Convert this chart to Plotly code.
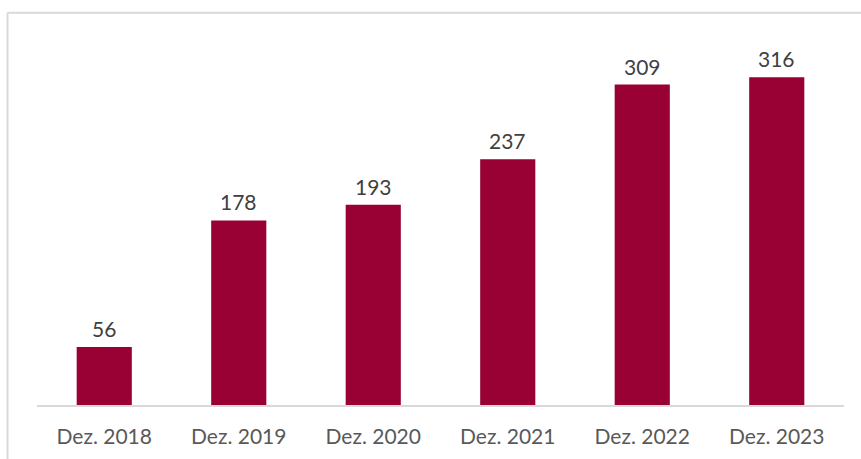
import plotly.graph_objects as go

categories = ["Dez. 2018", "Dez. 2019", "Dez. 2020", "Dez. 2021", "Dez. 2022", "Dez. 2023"]
values = [56, 178, 193, 237, 309, 316]

W, H = 861, 459
ml, mr, mt, mb = 37, 17, 41.7, 54
plot_w = W - ml - mr
plot_h = H - mt - mb

fig = go.Figure()
fig.add_trace(go.Bar(
    x=categories, y=values,
    marker=dict(color="#990033", line=dict(width=0)),
    width=0.41,
    hoverinfo="x+y",
))

for c, v in zip(categories, values):
    fig.add_annotation(x=c, y=v, text=str(v), showarrow=False,
                       yanchor="bottom", yshift=4,
                       font=dict(family="Lato", size=21, color="#404040"))

# outer chart border (left and top visible)
bx = (7.5 - ml) / plot_w
by = (H - mb - 12.5) / plot_h
fig.add_shape(type="line", xref="paper", yref="paper", x0=bx, x1=bx, y0=-0.2, y1=by,
              line=dict(color="#d9d9d9", width=2))
fig.add_shape(type="line", xref="paper", yref="paper", x0=bx, x1=1.1, y0=by, y1=by,
              line=dict(color="#d9d9d9", width=2))

fig.update_layout(
    width=W, height=H,
    margin=dict(l=ml, r=mr, t=mt, b=mb),
    paper_bgcolor="white", plot_bgcolor="white",
    showlegend=False,
    bargap=0.59,
    xaxis=dict(showline=True, linecolor="#d9d9d9", linewidth=1.5,
               ticks="outside", ticklen=12, tickcolor="rgba(0,0,0,0)",
               tickfont=dict(family="Lato", size=21, color="#595959"),
               showgrid=False, fixedrange=True),
    yaxis=dict(range=[0, 350], visible=False, showgrid=False, fixedrange=True),
)

fig.write_html("out.html")
